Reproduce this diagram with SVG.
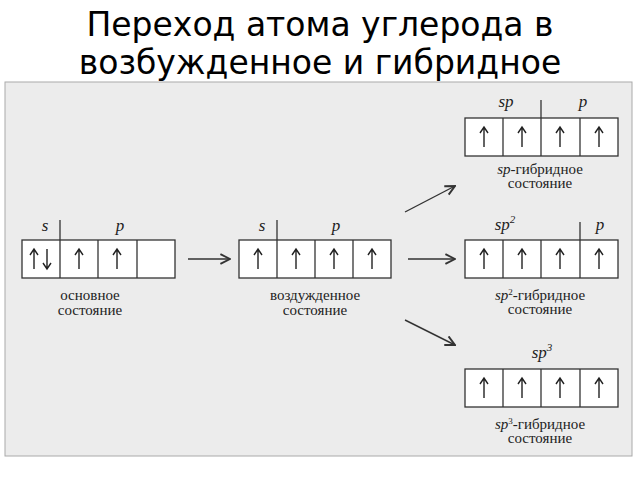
<svg xmlns="http://www.w3.org/2000/svg" width="640" height="480" viewBox="0 0 640 480">
<style>
.title{font-family:"DejaVu Sans","Noto Sans",sans-serif;font-size:33px;fill:#000;text-anchor:middle}
.lbl{font-family:"Liberation Serif","DejaVu Serif",serif;font-size:15px;fill:#222;text-anchor:middle}
.orb{font-family:"Liberation Serif",serif;font-size:17px;font-style:italic;fill:#222;text-anchor:middle}
.box{fill:#fff;stroke:#333;stroke-width:1.3}
.div{stroke:#333;stroke-width:1.3}
.spin{stroke:#222;stroke-width:1.4;fill:none}
.conn{stroke:#333;stroke-width:1.4;fill:none}
</style>
<defs>
<marker id="big" viewBox="0 0 10 10" refX="9" refY="5" markerWidth="12" markerHeight="12" markerUnits="userSpaceOnUse" orient="auto"><path d="M1,1 L9,5 L1,9" fill="none" stroke="#333" stroke-width="1.6"/></marker>
<path id="up" d="M0,10 V-9 M-4,-4 L0,-10 L4,-4" />
</defs>
<rect width="640" height="480" fill="#fff"/>
<text class="title" x="320" y="36">Переход атома углерода в</text>
<text class="title" x="320" y="74">возбужденное и гибридное</text>
<rect x="5" y="82" width="627" height="374" fill="#ececec" stroke="#aaa" stroke-width="1"/>

<g id="ground">
<text class="orb" x="45" y="231">s</text><text class="orb" x="120" y="231">p</text>
<line class="div" x1="60" y1="220" x2="60" y2="240"/>
<rect class="box" x="22" y="240" width="153" height="38"/>
<line class="div" x1="60" y1="240" x2="60" y2="278"/><line class="div" x1="98" y1="240" x2="98" y2="278"/><line class="div" x1="137" y1="240" x2="137" y2="278"/>
<g class="spin"><use href="#up" x="34" y="259"/><path d="M47,249 V268 M43,263 L47,269 L51,263"/><use href="#up" x="79" y="259"/><use href="#up" x="117" y="259"/></g>
<text class="lbl" x="90" y="300">основное</text><text class="lbl" x="90" y="315">состояние</text>
</g>

<g id="excited">
<text class="orb" x="262" y="231">s</text><text class="orb" x="336" y="231">p</text>
<rect class="box" x="239" y="240" width="152" height="38"/>
<line class="div" x1="277" y1="220" x2="277" y2="278"/><line class="div" x1="315" y1="240" x2="315" y2="278"/><line class="div" x1="353" y1="240" x2="353" y2="278"/>
<g class="spin"><use href="#up" x="258" y="259"/><use href="#up" x="296" y="259"/><use href="#up" x="334" y="259"/><use href="#up" x="372" y="259"/></g>
<text class="lbl" x="315" y="300">воздужденное</text><text class="lbl" x="315" y="315">состояние</text>
</g>

<g id="sp">
<text class="orb" x="506" y="107">sp</text><text class="orb" x="583" y="107">p</text>
<rect class="box" x="465" y="118" width="153" height="38"/>
<line class="div" x1="541" y1="100" x2="541" y2="156"/><line class="div" x1="503" y1="118" x2="503" y2="156"/><line class="div" x1="580" y1="118" x2="580" y2="156"/>
<g class="spin"><use href="#up" x="484" y="137"/><use href="#up" x="522" y="137"/><use href="#up" x="560" y="137"/><use href="#up" x="599" y="137"/></g>
<text class="lbl" x="540" y="174"><tspan font-style="italic">sp</tspan>-гибридное</text><text class="lbl" x="540" y="188">состояние</text>
</g>

<g id="sp2">
<text class="orb" x="505" y="230">sp<tspan font-size="11" dy="-7">2</tspan></text><text class="orb" x="600" y="230">p</text>
<rect class="box" x="465" y="240" width="153" height="38"/>
<line class="div" x1="580" y1="222" x2="580" y2="278"/><line class="div" x1="503" y1="240" x2="503" y2="278"/><line class="div" x1="541" y1="240" x2="541" y2="278"/>
<g class="spin"><use href="#up" x="484" y="259"/><use href="#up" x="522" y="259"/><use href="#up" x="560" y="259"/><use href="#up" x="599" y="259"/></g>
<text class="lbl" x="540" y="300"><tspan font-style="italic">sp</tspan><tspan font-size="9" dy="-5">2</tspan><tspan dy="5">-гибридное</tspan></text><text class="lbl" x="540" y="314">состояние</text>
</g>

<g id="sp3">
<text class="orb" x="542" y="358">sp<tspan font-size="11" dy="-7">3</tspan></text>
<rect class="box" x="465" y="369" width="153" height="38"/>
<line class="div" x1="503" y1="369" x2="503" y2="407"/><line class="div" x1="541" y1="369" x2="541" y2="407"/><line class="div" x1="580" y1="369" x2="580" y2="407"/>
<g class="spin"><use href="#up" x="484" y="388"/><use href="#up" x="522" y="388"/><use href="#up" x="560" y="388"/><use href="#up" x="599" y="388"/></g>
<text class="lbl" x="540" y="429"><tspan font-style="italic">sp</tspan><tspan font-size="9" dy="-5">3</tspan><tspan dy="5">-гибридное</tspan></text><text class="lbl" x="540" y="443">состояние</text>
</g>

<g id="connectors">
<line class="conn" x1="188" y1="259" x2="230" y2="259" marker-end="url(#big)"/>
<line class="conn" x1="405" y1="212" x2="455" y2="186" marker-end="url(#big)"/>
<line class="conn" x1="408" y1="259" x2="455" y2="259" marker-end="url(#big)"/>
<line class="conn" x1="405" y1="320" x2="455" y2="345" marker-end="url(#big)"/>
</g>
</svg>
